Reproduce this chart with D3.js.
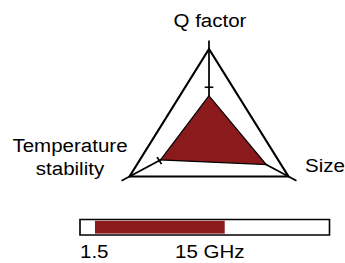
<!DOCTYPE html>
<html><head><meta charset="utf-8">
<script src="https://cdn.jsdelivr.net/npm/d3@7"></script>
<style>html,body{margin:0;padding:0;background:#fff;}svg{display:block;}text{font-family:"Liberation Sans",Arial,sans-serif;fill:#000;}</style>
</head><body>
<script>
// Data
const axesNames = ["Q factor", "Size", "Temperature stability"];
const values = [0.45, 0.72, 0.61];
const tickValues = [0.55, 0.60, 0.625];
const bandRange = [0.06, 0.58];
const bandLabels = ["1.5", "15 GHz"];

const W = 345, H = 263, SX = 1.08;
const svg = d3.select("body").append("svg").attr("width", W).attr("height", H);
const g = svg.append("g").attr("transform", `scale(${SX},1)`);

const cx = 209 / SX, cy = 134, R = 85;
const r = d3.scaleLinear().domain([0, 1]).range([0, R]);
const angles = [0, 2 * Math.PI / 3, 4 * Math.PI / 3]; // from top, clockwise
const pt = (a, v) => [cx + r(v) * Math.sin(a), cy - r(v) * Math.cos(a)];

// outer triangle
g.append("path")
  .attr("d", d3.line()(angles.map(a => pt(a, 1))) + "Z")
  .attr("fill", "none").attr("stroke", "#000").attr("stroke-width", 2).attr("stroke-linejoin", "miter");

// axes
angles.forEach(a => {
  const [x2, y2] = pt(a, 1.1);
  g.append("line").attr("x1", cx).attr("y1", cy).attr("x2", x2).attr("y2", y2)
    .attr("stroke", "#000").attr("stroke-width", 1.6);
});

// ticks
angles.forEach((a, i) => {
  const [x, y] = pt(a, tickValues[i]);
  const dx = Math.cos(a) * 4, dy = Math.sin(a) * 4;
  g.append("line").attr("x1", x - dx).attr("y1", y - dy).attr("x2", x + dx).attr("y2", y + dy)
    .attr("stroke", "#000").attr("stroke-width", 1.6);
});

// data polygon
g.append("path")
  .attr("d", d3.line()(angles.map((a, i) => pt(a, values[i]))) + "Z")
  .attr("fill", "#8b1a1c").attr("stroke", "#000").attr("stroke-width", 1.2);

// labels
const fs = 19;
g.append("text").attr("x", 210 / SX).attr("y", 27).attr("text-anchor", "middle").attr("font-size", fs).text(axesNames[0]);
g.append("text").attr("x", 305 / SX).attr("y", 172).attr("text-anchor", "start").attr("font-size", fs).text(axesNames[1]);
const tw = axesNames[2].split(" ");
g.append("text").attr("x", 70 / SX).attr("y", 152).attr("text-anchor", "middle").attr("font-size", fs).text(tw[0]);
g.append("text").attr("x", 70 / SX).attr("y", 175).attr("text-anchor", "middle").attr("font-size", fs).text(tw[1]);

// band bar
const bx = d3.scaleLinear().domain([0, 1]).range([80 / SX, 329.5 / SX]);
g.append("rect").attr("x", bx(0)).attr("y", 219.5).attr("width", bx(1) - bx(0)).attr("height", 15.5)
  .attr("fill", "#fff").attr("stroke", "#000").attr("stroke-width", 1.5);
g.append("rect").attr("x", bx(bandRange[0])).attr("y", 220.8).attr("width", bx(bandRange[1]) - bx(bandRange[0])).attr("height", 12.8)
  .attr("fill", "#8b1a1c");
g.append("text").attr("x", 80 / SX).attr("y", 258).attr("font-size", fs).text(bandLabels[0]);
g.append("text").attr("x", 175 / SX).attr("y", 258).attr("font-size", fs).text(bandLabels[1]);
</script>
</body></html>
